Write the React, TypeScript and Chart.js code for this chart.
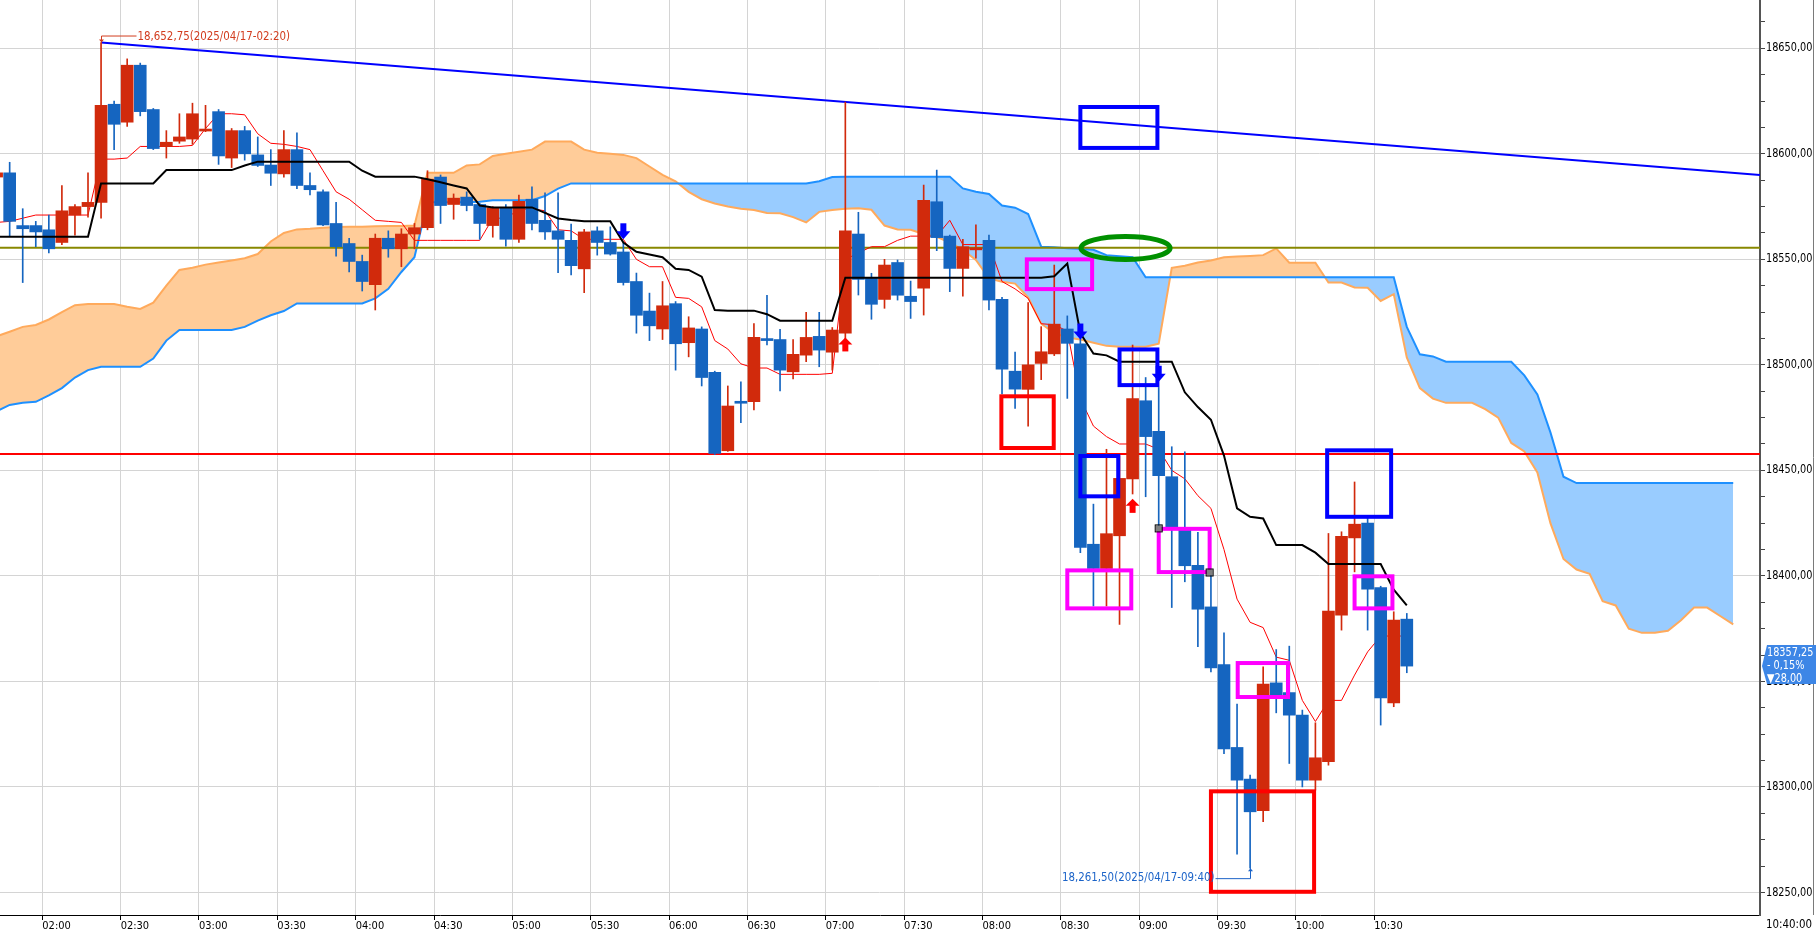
import React, { useEffect, useRef } from 'react';
import { Chart, registerables } from 'chart.js';

Chart.register(...registerables);

const FONT = "'Liberation Sans Narrow', 'DejaVu Sans Condensed', 'Arial Narrow', sans-serif";

// 5-minute bars; index 0 = 02:00, first bar = index -4
const FIRST_BAR = -4;
const opens = [
  18589, 18591, 18566, 18566, 18564, 18558, 18571, 18575, 18577, 18623.5,
  18615, 18642, 18621, 18603.5, 18606, 18607, 18610.8, 18620, 18598, 18611,
  18599.5, 18594.7, 18590.5, 18602, 18585, 18582, 18567, 18557.5, 18549, 18538,
  18560, 18555, 18562, 18565, 18589, 18576, 18579.5, 18576, 18566, 18574.5,
  18559.5, 18578.5, 18568.5, 18563.5, 18559, 18545.5, 18563.5, 18558, 18553.5, 18539.5,
  18525.5, 18517, 18529, 18510.5, 18517, 18496.5, 18459.3, 18482.3, 18482.5, 18512,
  18512, 18496.7, 18504.6, 18513.5, 18506, 18515, 18562, 18541, 18531, 18548.5,
  18532.5, 18536.3, 18577.3, 18561, 18545.7, 18554.5, 18559, 18531, 18497, 18488.4,
  18500.7, 18505.2, 18517, 18510, 18415, 18403.5, 18419, 18446, 18483, 18468.5,
  18447, 18421.7, 18405, 18385.3, 18358, 18318.7, 18303.7, 18288.7, 18349.3, 18344.7,
  18334, 18303.2, 18312, 18381.4, 18418, 18425, 18394.4, 18339.8, 18379.5,
];
const highs = [
  18592, 18596, 18574, 18568, 18571, 18585, 18576, 18591, 18652.75, 18625,
  18645, 18643, 18621.5, 18611, 18619, 18624, 18623, 18621, 18612, 18613,
  18608, 18602, 18611, 18610, 18591, 18583, 18577, 18560, 18552, 18562,
  18563.5, 18564.5, 18567, 18592, 18590, 18581, 18582, 18576.5, 18575, 18576,
  18580.5, 18584.4, 18581.5, 18581.5, 18566.7, 18564.2, 18565.4, 18565.4, 18557.6, 18543.5,
  18534, 18539.5, 18530, 18522.8, 18518, 18497, 18490, 18492, 18519.6, 18533,
  18516.8, 18512, 18524.9, 18524.9, 18517.7, 18624.5, 18572.3, 18543.4, 18550, 18549.7,
  18539.7, 18585.2, 18592.3, 18561.5, 18559.5, 18566.3, 18561.5, 18532, 18506, 18529.5,
  18518.1, 18547.3, 18523.2, 18515, 18434, 18460, 18457, 18509.4, 18494, 18489.3,
  18461.2, 18458.8, 18420.6, 18400.4, 18373, 18339.2, 18305.6, 18356.9, 18365.1, 18366.7,
  18336.4, 18330.4, 18420.1, 18420.9, 18444.5, 18428.3, 18395.1, 18383, 18382.2,
];
const lows = [
  18587, 18561, 18539, 18556, 18553, 18557, 18561.5, 18570, 18569.5, 18602,
  18613, 18618, 18602, 18598, 18605, 18604.5, 18610.5, 18595, 18593.5, 18597,
  18594, 18585, 18589, 18583.5, 18580.5, 18566, 18551.5, 18544, 18535, 18526,
  18551, 18546.5, 18555, 18564, 18567, 18569, 18573, 18559.5, 18560.5, 18556.3,
  18558, 18564, 18559.5, 18543.7, 18542.6, 18534.2, 18552, 18552, 18537.8, 18515,
  18511.5, 18512, 18497.5, 18503.8, 18490, 18457.5, 18459, 18472.6, 18478.6, 18509.4,
  18487.7, 18493.3, 18501.5, 18499.1, 18497.5, 18512, 18533.1, 18521.6, 18526.8, 18530.7,
  18522, 18523.6, 18554.1, 18534.7, 18532.6, 18550.5, 18526, 18486.2, 18479.4, 18471,
  18493, 18504.4, 18484.1, 18411, 18385.7, 18385.7, 18377, 18438.8, 18437.5, 18422.8,
  18385, 18397.2, 18366.4, 18354.5, 18315.8, 18268.1, 18261.5, 18283.5, 18335.1, 18311.1,
  18300, 18298.5, 18310.3, 18374.3, 18401.9, 18374.3, 18329.3, 18338, 18354.1,
];
const closes = [
  18591, 18568, 18564.5, 18563, 18555, 18573, 18575, 18577, 18623, 18614,
  18642, 18620, 18602.5, 18605.5, 18608, 18619, 18611.2, 18599, 18611, 18600,
  18594.5, 18590.8, 18602, 18585, 18583, 18566.3, 18556, 18549, 18539.5, 18560,
  18555, 18562, 18565, 18588, 18575.5, 18579, 18575.5, 18567, 18574.5, 18559.5,
  18577.5, 18567, 18563, 18559.5, 18547, 18563, 18558, 18552.5, 18539, 18523.5,
  18518.5, 18528, 18510, 18517.5, 18494, 18458, 18480.5, 18481.8, 18513, 18511.5,
  18497.5, 18505, 18513, 18507, 18516.5, 18563.5, 18540.5, 18528.7, 18547.3, 18533,
  18530, 18578, 18560.3, 18545.7, 18556, 18555, 18530.7, 18498, 18488.5, 18500,
  18506.2, 18519.3, 18510.2, 18413.5, 18403.5, 18420, 18446.2, 18484, 18466, 18447.5,
  18423.3, 18404.8, 18384.2, 18356.4, 18318, 18303.2, 18288.2, 18348.7, 18343.5, 18334,
  18303.2, 18313.8, 18383.3, 18418.8, 18424.5, 18393.7, 18342.2, 18379, 18357.25,
];

// Ichimoku lines (same index base as bars)
const tenkan = [
  18567.5, 18568, 18569.5, 18571, 18571, 18571, 18571, 18571, 18597.5, 18597.5,
  18598, 18603.5, 18603.5, 18603.5, 18603.5, 18604, 18612, 18619, 18619, 18618.5,
  18609.5, 18605, 18604.5, 18603.5, 18602, 18592, 18582, 18578.5, 18573.5, 18568.5,
  18568, 18567.5, 18559, 18559, 18559, 18559, 18559, 18559, 18569.5, 18569.5,
  18573.5, 18574, 18573, 18564, 18563.5, 18559.5, 18559.5, 18559.5, 18559.5, 18550,
  18546.5, 18546.5, 18532, 18531.5, 18527.5, 18511.5, 18507.5, 18500.5, 18498.5, 18498.5,
  18495.5, 18495.5, 18495.5, 18495.5, 18496, 18550, 18553, 18556, 18556, 18559,
  18561, 18561, 18561, 18568.5, 18557, 18557, 18557, 18539.5, 18536, 18531.5,
  18519.5, 18519, 18516, 18484, 18471, 18466, 18462.5, 18462.5, 18462.5, 18460,
  18450, 18446, 18438, 18432, 18412.5, 18389, 18378, 18375.5, 18361.5, 18360,
  18341, 18331, 18341, 18341, 18353, 18364, 18371.5, 18371.5, 18371.5,
];
const kijun = [
  18560.7, 18560.7, 18560.7, 18560.7, 18560.7, 18560.7, 18560.7, 18560.7, 18586, 18586,
  18586, 18586, 18586, 18592.3, 18592.3, 18592.3, 18592.3, 18592.3, 18592.3, 18594.5,
  18596.3, 18596.3, 18596.3, 18596.3, 18596.3, 18596.3, 18596.3, 18596.3, 18592, 18589.2,
  18589.2, 18589.2, 18589.2, 18588, 18586.5, 18585, 18583.6, 18575.5, 18574.6, 18574.6,
  18574.6, 18574.6, 18572, 18569.4, 18568.6, 18568, 18568, 18568, 18558, 18553.6,
  18552.3, 18551, 18545.5, 18545, 18541.8, 18526, 18525.7, 18525.7, 18525.7, 18524,
  18520.9, 18520.9, 18520.9, 18520.9, 18520.9, 18541.3, 18541.3, 18541.3, 18541.3, 18541.3,
  18541.3, 18541.3, 18541.3, 18541.3, 18541.3, 18541.3, 18541.3, 18541.3, 18541.3, 18541.3,
  18541.3, 18542, 18548, 18515, 18505.4, 18504.5, 18501.5, 18501.5, 18501.5, 18501.5,
  18501.5, 18487, 18480, 18474, 18457, 18432, 18428, 18427.2, 18414.6, 18414.6,
  18414.6, 18411, 18405.6, 18405.6, 18405.6, 18405.6, 18405.6, 18393.5, 18386,
];
// Leading spans, index -4 .. 129
const spanA = [
  18513.5, 18515.7, 18518, 18518.9, 18521.5, 18525, 18528.3, 18528.8, 18528.8, 18528.8,
  18527.5, 18526.5, 18529.5, 18537.5, 18545, 18546, 18547.5, 18548.5, 18549.5, 18550.5,
  18552.5, 18558.5, 18562.5, 18564.2, 18564.5, 18565, 18565.3, 18565.5, 18565.5, 18565.7,
  18565.8, 18565.8, 18566, 18591, 18591, 18591, 18594.5, 18595, 18599, 18600,
  18601, 18602, 18605.8, 18605.8, 18605.8, 18602, 18600.5, 18600, 18599.5, 18598,
  18594, 18590, 18587, 18582, 18578.5, 18576.5, 18575, 18574, 18573.4, 18572,
  18571.8, 18570, 18567.5, 18572.5, 18573.4, 18574, 18574.2, 18573.5, 18566, 18564.2,
  18564, 18562, 18560.7, 18558, 18554.5, 18549.7, 18541, 18539.4, 18538.5, 18532,
  18519.5, 18515, 18513, 18512, 18510.5, 18509, 18508.6, 18508.6, 18508.6, 18510,
  18546, 18547, 18548.5, 18549.5, 18551, 18551.3, 18551.6, 18552, 18555.2, 18548.4,
  18548.4, 18548.4, 18539, 18539, 18536.7, 18536.5, 18530.3, 18533.5, 18503.5, 18489,
  18484, 18482, 18482, 18482, 18479, 18475, 18463, 18459, 18449, 18425,
  18408, 18403, 18401, 18388, 18386, 18375, 18373, 18373, 18374, 18379,
  18385, 18385, 18381, 18377,
];
const spanB = [
  18478, 18481, 18482, 18482.5, 18485.5, 18489, 18494, 18497.5, 18499.1, 18499.1,
  18499.1, 18499.1, 18503, 18511.5, 18516.5, 18516.5, 18516.5, 18516.5, 18516.5, 18518,
  18521, 18523.5, 18525.5, 18529.1, 18529.1, 18529.1, 18529.1, 18529.1, 18529.1, 18531.5,
  18536, 18544, 18551, 18577, 18577, 18577, 18577, 18577.3, 18578, 18578,
  18578, 18578, 18580, 18583.5, 18586, 18586, 18586, 18586, 18586, 18586,
  18586, 18586, 18586, 18586, 18586, 18586, 18586, 18586, 18586, 18586,
  18586, 18586, 18586, 18587, 18589, 18589.2, 18589.2, 18589.2, 18589.2, 18589.2,
  18589.2, 18589.2, 18589.2, 18589.2, 18583.6, 18582, 18581, 18575.5, 18574.5, 18571.5,
  18556, 18555.7, 18555.3, 18555, 18554.5, 18552, 18551.5, 18551, 18541.5, 18541.5,
  18541.5, 18541.5, 18541.5, 18541.5, 18541.5, 18541.5, 18541.5, 18541.5, 18541.5, 18541.5,
  18541.5, 18541.5, 18541.5, 18541.5, 18541.5, 18541.5, 18541.5, 18541.5, 18518, 18505,
  18504, 18501.5, 18501.5, 18501.5, 18501.5, 18501.5, 18501.5, 18495, 18486, 18468,
  18447, 18444, 18444, 18444, 18444, 18444, 18444, 18444, 18444, 18444,
  18444, 18444, 18444, 18444,
];

const timeLabels = ['02:00', '02:30', '03:00', '03:30', '04:00', '04:30', '05:00', '05:30', '06:00',
  '06:30', '07:00', '07:30', '08:00', '08:30', '09:00', '09:30', '10:00', '10:30'];
const endTimeLabel = '10:40:00';
const priceTicks = [18250, 18300, 18350, 18400, 18450, 18500, 18550, 18600, 18650];

// drawn studies (bar index, price)
const trendX = [4, 131.05];
const trendY = [18652.75, 18590];
const oliveLevel = 18555.5;
const redLevel = 18457.7;
const downSignals = [[44, 18559.5], [79, 18512], [85, 18492]];
const upSignals = [[61, 18513], [83, 18436.5]];
const blueBoxes = [[79.0, 84.9, 18622.2, 18602.8], [82.0, 84.9, 18507.3, 18490.4], [79.0, 81.9, 18456.8, 18437.7], [97.9, 102.8, 18459.5, 18428]];
const magentaBoxes = [[74.9, 79.9, 18550, 18535.9], [78.0, 82.9, 18402.6, 18384.6], [85.0, 88.9, 18422.3, 18401.8], [91.05, 94.9, 18358.7, 18342.6], [100.0, 102.9, 18399.8, 18384.6]];
const redBoxes = [[72.95, 76.96, 18485.1, 18460.6], [89.0, 96.9, 18297.9, 18250.3]];
const ellipses = [[82.46, 18555.4, 3.41, 5.45]];
const handles = [[85.0, 18422.5], [88.9, 18401.6]];
const highMark = { bar: 4, price: 18652.75, text: '18,652,75(2025/04/17-02:20)' };
const lowMark = { bar: 92, price: 18261.5, text: '18,261,50(2025/04/17-09:40)' };
const lastPrice = 18357.25;
const priceBoxLines = ['18357,25', '- 0,15%', '\u25BC28,00'];

const X_MIN = -3.74;
const X_MAX = 131.05;
const Y_MIN = 18239.3;
const Y_MAX = 18672.9;

const UP = '#D12A0C';
const DOWN = '#1565C0';

const series = (vals: number[], start: number) => vals.map((v, k) => ({ x: start + k, y: v }));
const priceText = (v: number) => v.toFixed(2).replace('.', ',');

const squeezedText = (ctx: any, text: string, x: number, y: number, sx: number) => {
  ctx.save();
  ctx.translate(x, y);
  ctx.scale(sx, 1);
  ctx.fillText(text, 0, 0);
  ctx.restore();
};

const overlayPlugin = {
  id: 'overlay',
  afterDatasetsDraw(chart: any) {
    const { ctx, chartArea, scales } = chart;
    const px = (v: number) => scales.x.getPixelForValue(v);
    const py = (v: number) => scales.y.getPixelForValue(v);
    ctx.save();
    ctx.beginPath();
    ctx.rect(chartArea.left, chartArea.top, chartArea.right - chartArea.left, chartArea.bottom - chartArea.top);
    ctx.clip();

    // signal arrows
    ctx.fillStyle = '#0000FF';
    downSignals.forEach(([b, p]) => {
      const x = px(b), y = py(p);
      ctx.fillRect(x - 3, y - 16, 6, 9);
      ctx.beginPath();
      ctx.moveTo(x - 7, y - 8); ctx.lineTo(x + 7, y - 8); ctx.lineTo(x, y); ctx.closePath(); ctx.fill();
    });
    ctx.fillStyle = '#FF0000';
    upSignals.forEach(([b, p]) => {
      const x = px(b), y = py(p);
      ctx.beginPath();
      ctx.moveTo(x - 7, y + 7); ctx.lineTo(x + 7, y + 7); ctx.lineTo(x, y); ctx.closePath(); ctx.fill();
      ctx.fillRect(x - 3, y + 6, 6, 8);
    });

    const boxes = (list: number[][], color: string) => {
      ctx.strokeStyle = color;
      ctx.lineWidth = 4;
      list.forEach(([a, b, t, bt]) => {
        ctx.strokeRect(px(a), py(t), px(b) - px(a), py(bt) - py(t));
      });
    };
    boxes(blueBoxes, '#0000FF');
    boxes(magentaBoxes, '#FF00FF');
    boxes(redBoxes, '#FF0000');

    ctx.strokeStyle = '#009000';
    ctx.lineWidth = 5;
    ellipses.forEach(([b, p, rb, rp]) => {
      const cx = px(b), cy = py(p);
      const rx = Math.abs(px(b + rb) - cx), ry = Math.abs(py(p + rp) - cy);
      ctx.beginPath();
      ctx.ellipse(cx, cy, rx, ry, 0, 0, Math.PI * 2);
      ctx.stroke();
    });

    handles.forEach(([b, p]) => {
      const x = px(b), y = py(p);
      ctx.fillStyle = '#808080';
      ctx.fillRect(x - 3, y - 3, 6, 6);
      ctx.strokeStyle = '#000';
      ctx.lineWidth = 1;
      ctx.strokeRect(x - 3.5, y - 3.5, 7, 7);
    });

    ctx.font = `12px ${FONT}`;
    ctx.textBaseline = 'middle';
    // high marker
    {
      const x = Math.round(px(highMark.bar)) + 0.5, y = py(highMark.price);
      ctx.strokeStyle = '#D23C1E';
      ctx.fillStyle = '#D23C1E';
      ctx.lineWidth = 1;
      ctx.beginPath();
      ctx.moveTo(x, y); ctx.lineTo(x, y - 6.5); ctx.lineTo(x + 35, y - 6.5); ctx.stroke();
      ctx.beginPath(); ctx.moveTo(x - 2.5, y - 3); ctx.lineTo(x + 2.5, y - 3); ctx.lineTo(x, y); ctx.closePath(); ctx.fill();
      ctx.textAlign = 'left';
      squeezedText(ctx, highMark.text, x + 36, y - 6, 0.95);
    }
    // low marker
    {
      const x = Math.round(px(lowMark.bar)) + 0.5, y = py(lowMark.price);
      ctx.strokeStyle = '#1C64C8';
      ctx.fillStyle = '#1C64C8';
      ctx.lineWidth = 1;
      ctx.beginPath();
      ctx.moveTo(x, y); ctx.lineTo(x, y + 10.5); ctx.lineTo(x - 35, y + 10.5); ctx.stroke();
      ctx.beginPath(); ctx.moveTo(x - 2.5, y + 3); ctx.lineTo(x + 2.5, y + 3); ctx.lineTo(x, y); ctx.closePath(); ctx.fill();
      ctx.textAlign = 'right';
      squeezedText(ctx, lowMark.text, x - 36, y + 10, 0.95);
    }
    ctx.restore();
  },
  afterDraw(chart: any) {
    const { ctx, chartArea, scales } = chart;
    ctx.save();
    ctx.font = `12px ${FONT}`;
    ctx.textAlign = 'left';
    ctx.textBaseline = 'middle';
    // price axis labels (squeezed to the narrow terminal font width)
    ctx.fillStyle = '#000';
    priceTicks.forEach((p) => {
      squeezedText(ctx, priceText(p), chartArea.right + 6, scales.y.getPixelForValue(p), 0.9);
    });
    // right frame line
    ctx.strokeStyle = '#7a7a7a';
    ctx.lineWidth = 1;
    ctx.beginPath(); ctx.moveTo(1813.5, 0); ctx.lineTo(1813.5, chartArea.bottom); ctx.stroke();
    // last price box
    const y0 = scales.y.getPixelForValue(lastPrice);
    const l = chartArea.right + 2;
    ctx.fillStyle = '#3D86E6';
    ctx.beginPath();
    ctx.moveTo(l, y0);
    ctx.lineTo(l + 5, y0 - 21);
    ctx.lineTo(1816, y0 - 21);
    ctx.lineTo(1816, y0 + 18);
    ctx.lineTo(l + 5, y0 + 18);
    ctx.closePath();
    ctx.fill();
    ctx.fillStyle = '#FFFFFF';
    priceBoxLines.forEach((t, k) => squeezedText(ctx, t, l + 5, y0 - 13 + k * 13, 0.9));
    // end time
    ctx.fillStyle = '#000';
    squeezedText(ctx, endTimeLabel, chartArea.right + 6, chartArea.bottom + 10, 0.95);
    ctx.restore();
  },
};

export default function App() {
  const ref = useRef<HTMLCanvasElement | null>(null);
  useEffect(() => {
    if (!ref.current) return;
    const barX = (k: number) => FIRST_BAR + k;
    const ks = opens.map((_, k) => k);
    const upK = ks.filter((k) => closes[k] >= opens[k]);
    const dnK = ks.filter((k) => closes[k] < opens[k]);
    const wick = (list: number[]) => list.map((k) => ({ x: barX(k), y: [lows[k], highs[k]] }));
    const body = (list: number[]) => list.map((k) => ({ x: barX(k), y: [opens[k], closes[k]] }));
    const lineBase = { type: 'line', pointRadius: 0, tension: 0, fill: false, borderJoinStyle: 'miter' };

    const chart = new Chart(ref.current, {
      type: 'bar',
      data: {
        datasets: [
          { ...lineBase, data: series(spanA, FIRST_BAR), borderColor: '#FFAA5C', borderWidth: 2, order: 20,
            fill: { target: 1, above: '#FFCC99', below: '#99CCFF' } },
          { ...lineBase, data: series(spanB, FIRST_BAR), borderColor: '#1E90FF', borderWidth: 2, order: 19 },
          { ...lineBase, data: [{ x: X_MIN, y: oliveLevel }, { x: X_MAX, y: oliveLevel }], borderColor: '#888800', borderWidth: 2, order: 18 },
          { ...lineBase, data: [{ x: X_MIN, y: redLevel }, { x: X_MAX, y: redLevel }], borderColor: '#FF0000', borderWidth: 2, order: 18 },
          { ...lineBase, data: trendX.map((x, k) => ({ x, y: trendY[k] })), borderColor: '#0000FF', borderWidth: 2, order: 18 },
          { ...lineBase, data: series(tenkan, FIRST_BAR), borderColor: '#FF0000', borderWidth: 1, order: 15 },
          { type: 'bar', data: wick(upK), backgroundColor: UP, barThickness: 1, grouped: false, order: 12 },
          { type: 'bar', data: wick(dnK), backgroundColor: DOWN, barThickness: 1, grouped: false, order: 12 },
          { type: 'bar', data: body(upK), backgroundColor: UP, barThickness: 12, minBarLength: 2, grouped: false, order: 10 },
          { type: 'bar', data: body(dnK), backgroundColor: DOWN, barThickness: 12, minBarLength: 2, grouped: false, order: 10 },
          { ...lineBase, data: series(kijun, FIRST_BAR), borderColor: '#000000', borderWidth: 2, order: 5 },
        ],
      },
      options: {
        responsive: false,
        animation: false,
        devicePixelRatio: 1,
        events: [],
        layout: { padding: 0 },
        plugins: { legend: { display: false }, tooltip: { enabled: false } },
        scales: {
          x: {
            type: 'linear',
            min: X_MIN,
            max: X_MAX,
            offset: false,
            grid: { color: '#D4D4D4', offset: false, drawTicks: true, tickLength: 5, tickColor: '#000', lineWidth: 1 },
            border: { color: '#000', width: 1 },
            ticks: {
              align: 'start', autoSkip: false, maxRotation: 0, minRotation: 0, padding: 0, color: '#000',
              font: { family: FONT, size: 11 },
              callback: (_v: any, i: number) => timeLabels[i] ?? '',
            },
            afterBuildTicks: (s: any) => { s.ticks = timeLabels.map((_, k) => ({ value: -0.5 + 6 * k })); },
            afterFit: (s: any) => { s.height = 17; s.paddingLeft = 0; s.paddingRight = 0; },
          },
          y: {
            type: 'linear',
            position: 'right',
            min: Y_MIN,
            max: Y_MAX,
            grid: {
              color: (c: any) => (c.tick && priceTicks.includes(c.tick.value) ? '#D4D4D4' : 'rgba(0,0,0,0)'),
              drawTicks: true, tickLength: 5, tickColor: '#444',
            },
            border: { color: '#555', width: 2 },
            ticks: {
              autoSkip: false, padding: 1, color: 'rgba(0,0,0,0)',
              font: { family: FONT, size: 12 },
              callback: (v: any) => (priceTicks.includes(v) ? priceText(Number(v)) : ''),
            },
            afterBuildTicks: (s: any) => {
              const t: any[] = [];
              priceTicks.forEach((p) => { for (let q = 0; q < 4; q++) { const v = p - 12.5 * q; if (v >= Y_MIN) t.push({ value: v }); } });
              const top = priceTicks[priceTicks.length - 1];
              if (top + 12.5 <= Y_MAX) t.push({ value: top + 12.5 });
              t.sort((a, b) => a.value - b.value);
              s.ticks = t;
            },
            afterFit: (s: any) => { s.width = 56; s.paddingTop = 0; s.paddingBottom = 0; },
          },
        },
      },
      plugins: [overlayPlugin],
    } as any);
    return () => chart.destroy();
  }, []);

  return (
    <div style={{ position: 'absolute', left: 0, top: 0, width: 1816, height: 932, background: '#fff' }}>
      <canvas ref={ref} width={1816} height={932} style={{ width: 1816, height: 932, display: 'block' }} />
    </div>
  );
}
